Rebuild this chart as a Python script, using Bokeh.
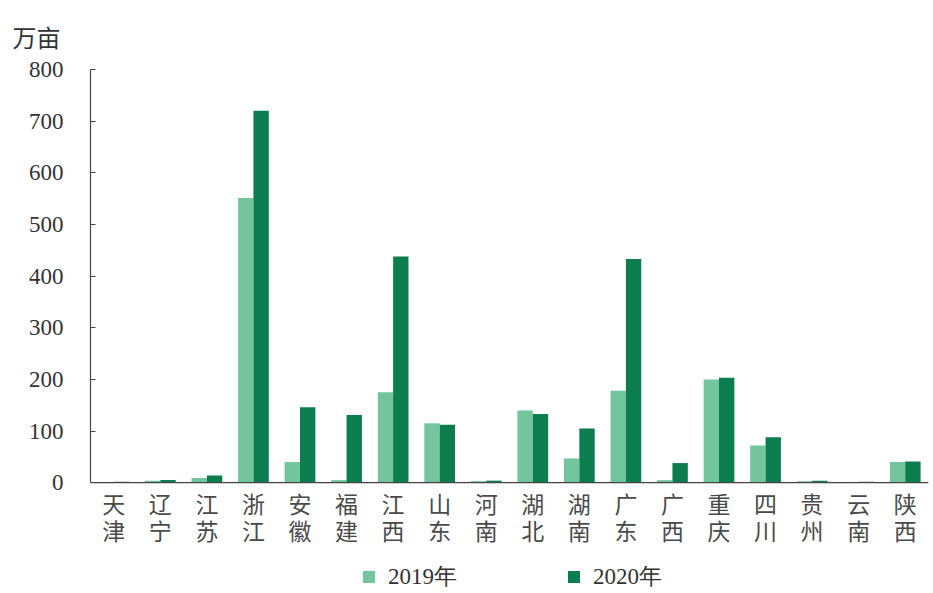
from bokeh.plotting import figure
from bokeh.models import ColumnDataSource, FactorRange, Range1d, Legend, LegendItem, Span, Title
from bokeh.core.properties import value
from bokeh.transform import dodge
from bokeh.embed import file_html
from bokeh.resources import INLINE

provinces = ["天津", "辽宁", "江苏", "浙江", "安徽", "福建", "江西", "山东", "河南",
             "湖北", "湖南", "广东", "广西", "重庆", "四川", "贵州", "云南", "陕西"]
v2019 = [1, 4, 9, 551, 40, 5, 175, 115, 3, 140, 47, 178, 5, 200, 72, 3, 1, 40]
v2020 = [2, 5, 14, 720, 146, 131, 438, 112, 4, 133, 105, 433, 38, 203, 88, 4, 2, 41]
y_ticks = [0, 100, 200, 300, 400, 500, 600, 700, 800]

c2019 = "#72c59c"
c2020 = "#0b7d4f"

source = ColumnDataSource(dict(prov=provinces, y2019=v2019, y2020=v2020,
                               top_char=[s[0] for s in provinces],
                               bot_char=[s[1] for s in provinces],
                               zero=[0] * len(provinces)))

p = figure(width=930, height=590, output_backend="svg", toolbar_location=None,
           x_range=FactorRange(*provinces, range_padding=0), y_range=Range1d(-208.7, 800),
           x_axis_location=None,
           min_border_left=90, min_border_top=68, min_border_right=2, min_border_bottom=0)
p.outline_line_color = None
p.grid.grid_line_color = None
p.background_fill_color = "white"

r1 = p.vbar(x=dodge("prov", -0.165, range=p.x_range), top="y2019", width=0.33,
            source=source, fill_color=c2019, line_color=None)
r2 = p.vbar(x=dodge("prov", 0.165, range=p.x_range), top="y2020", width=0.33,
            source=source, fill_color=c2020, line_color=None)

# x axis baseline
p.add_layout(Span(location=0, dimension="width", line_color="#444444", line_width=1.2))

# category labels (two stacked characters)
p.text(x="prov", y="zero", text="top_char", source=source, y_offset=3,
       text_align="center", text_baseline="top", text_font=value("Noto Sans CJK SC"),
       text_font_size="23px", text_color="#4a4a4a")
p.text(x="prov", y="zero", text="bot_char", source=source, y_offset=30,
       text_align="center", text_baseline="top", text_font=value("Noto Sans CJK SC"),
       text_font_size="23px", text_color="#4a4a4a")

# y axis
ya = p.yaxis[0]
ya.ticker = y_ticks
ya.bounds = (0, 800)
ya.major_tick_in = 5
ya.major_tick_out = 0
ya.minor_tick_line_color = None
ya.axis_line_color = "#444444"
ya.axis_line_width = 1.2
ya.major_tick_line_color = "#444444"
ya.major_label_text_font = "Liberation Serif"
ya.major_label_text_font_size = "23px"
ya.major_label_text_color = "#333333"
ya.major_label_standoff = 27

legend = Legend(items=[LegendItem(label="2019年", renderers=[r1]),
                       LegendItem(label="2020年", renderers=[r2])],
                orientation="horizontal", location=(271, -2),
                label_text_font="Liberation Serif", label_text_font_size="23px",
                label_text_color="#333333", glyph_width=15, glyph_height=15,
                spacing=109, border_line_color=None, background_fill_alpha=0,
                padding=0, margin=0, label_standoff=12)
p.add_layout(legend)

p.add_layout(Title(text="万亩", align="left", offset=-78, standoff=32,
                   text_font="Noto Sans CJK SC", text_font_size="24px",
                   text_font_style="normal", text_color="#333333"), "above")

open("out.html", "w").write(file_html(p, INLINE))
